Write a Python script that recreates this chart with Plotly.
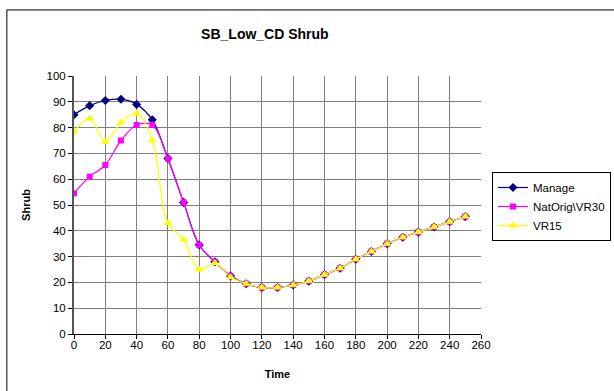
import plotly.graph_objects as go

time = [0, 10, 20, 30, 40, 50, 60, 70, 80, 90, 100, 110, 120, 130, 140, 150, 160, 170, 180, 190, 200, 210, 220, 230, 240, 250]
manage = [85, 88.5, 90.5, 91, 89, 83, 68, 51, 34.5, 28, 22.5, 19.5, 18, 18, 19, 20.5, 23, 25.5, 29, 32, 35, 37.5, 39.5, 41.5, 43.5, 45.5]
natorig = [54.5, 61, 65.5, 75, 81, 81, 68, 51, 34.5, 28, 22.5, 19.5, 18, 18, 19, 20.5, 23, 25.5, 29, 32, 35, 37.5, 39.5, 41.5, 43.5, 45.5]
vr15 = [78.5, 83.5, 74.5, 82, 85.5, 75, 43, 36.5, 25, 27.5, 22, 19.5, 18, 18, 19, 20.5, 23, 25.5, 29, 32, 35, 37.5, 39.5, 41.5, 43.5, 45.5]

x_ticks = list(range(0, 261, 20))
y_ticks = list(range(0, 101, 10))

fig = go.Figure()
fig.add_trace(go.Scatter(x=time, y=manage, name="Manage", mode="lines+markers",
                         line=dict(color="#000080", width=1.2, shape="spline", smoothing=1.0),
                         marker=dict(symbol="diamond", size=7, color="#000080")))
fig.add_trace(go.Scatter(x=time, y=natorig, name="NatOrig\\VR30", mode="lines+markers",
                         line=dict(color="#FF00FF", width=1.2, shape="spline", smoothing=1.0),
                         marker=dict(symbol="square", size=6, color="#FF00FF")))
fig.add_trace(go.Scatter(x=time, y=vr15, name="VR15", mode="lines+markers",
                         line=dict(color="#FFFF00", width=1.2, shape="spline", smoothing=1.0),
                         marker=dict(symbol="triangle-up", size=8, color="#FFFF00")))

fig.update_layout(
    width=614, height=391,
    margin=dict(l=74, r=133, t=76, b=57, autoexpand=False),
    paper_bgcolor="white", plot_bgcolor="white",
    font=dict(family="Liberation Sans, Arial, sans-serif", size=11, color="black"),
    title=dict(text="<b>SB_Low_CD Shrub</b>", x=0.469, xanchor="center", xref="paper",
               y=1 - 34 / 391, yanchor="middle", yref="container", font=dict(size=14)),
    showlegend=True,
    legend=dict(x=492 / 614, y=1 - 172 / 391, xref="container", yref="container",
                xanchor="left", yanchor="top",
                bordercolor="black", borderwidth=1, bgcolor="white",
                font=dict(size=11.5), tracegroupgap=0, itemwidth=30),
    xaxis=dict(range=[0, 260], tickvals=x_ticks, ticktext=[str(v) for v in x_ticks],
               showgrid=True, gridcolor="#808080", gridwidth=1,
               showline=True, linecolor="black", linewidth=1,
               ticks="outside", ticklen=4, tickcolor="black", zeroline=False,
               tickfont=dict(size=11.5), ticklabelstandoff=-4,
               title=dict(text="<b>Time</b>", font=dict(size=11), standoff=20)),
    yaxis=dict(range=[0, 100], tickvals=y_ticks, ticktext=[str(v) for v in y_ticks],
               showgrid=True, gridcolor="#808080", gridwidth=1,
               showline=True, linecolor="#555555", linewidth=2,
               ticks="outside", ticklen=4, tickcolor="black", zeroline=False,
               tickfont=dict(size=11.5),
               title=dict(text="<b>Shrub</b>", font=dict(size=11), standoff=14)),
)

fig.add_shape(type="rect", xref="paper", yref="paper",
              x0=-0.165, y0=-0.4, x1=1.4, y1=1.256,
              line=dict(color="black", width=1), layer="below")

fig.write_html("out.html", config={"displayModeBar": False},
               post_script="document.body.style.margin='0';document.body.style.overflow='hidden';")
